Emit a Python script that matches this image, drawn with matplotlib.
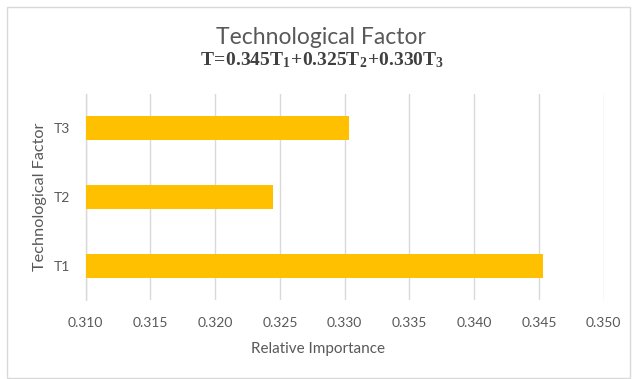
import matplotlib
matplotlib.use("Agg")
import matplotlib.pyplot as plt
from matplotlib.patches import Rectangle

factors = ["T1", "T2", "T3"]
importance = [0.3453, 0.3245, 0.3303]
x_ticks = [0.310, 0.315, 0.320, 0.325, 0.330, 0.335, 0.340, 0.345, 0.350]
title = "Technological Factor"
equation = r"$\mathbf{T\!=\!0.345T_1\!+\!0.325T_2\!+\!0.330T_3}$"
x_label = "Relative Importance"
y_label = "Technological Factor"

plt.rcParams["font.family"] = ["Lato", "DejaVu Sans"]
plt.rcParams["mathtext.fontset"] = "custom"
plt.rcParams["mathtext.bf"] = "Liberation Serif:bold"
plt.rcParams["mathtext.rm"] = "Liberation Serif:bold"

text_grey = "#595959"
grid_grey = "#d9d9d9"
bar_color = "#FFC000"

W, H = 636, 379
fig = plt.figure(figsize=(W / 100, H / 100), dpi=100)

# outer chart border
fig.patches.append(Rectangle((6.5 / W, 1 - 377.5 / H), (630 - 6.5) / W, (377.5 - 6.5) / H,
                             transform=fig.transFigure, fill=False,
                             edgecolor=grid_grey, linewidth=1.0))

left, right, top, bottom = 85.7, 603.7, 94, 300
ax = fig.add_axes([left / W, 1 - bottom / H, (right - left) / W, (bottom - top) / H])

ypos = range(len(factors))
ax.barh(ypos, importance, height=0.35, color=bar_color, zorder=3, left=0)
ax.set_xlim(x_ticks[0], x_ticks[-1])
ax.set_ylim(-0.5, len(factors) - 0.5)
ax.set_xticks(x_ticks)
ax.set_xticklabels([f"{v:.3f}" for v in x_ticks])
ax.set_yticks(list(ypos))
ax.set_yticklabels(factors)

ax.grid(axis="x", color=grid_grey, linewidth=1.0, zorder=0)
for s in ["top", "right", "bottom"]:
    ax.spines[s].set_visible(False)
ax.spines["left"].set_color(grid_grey)
ax.spines["left"].set_linewidth(1.0)
ax.tick_params(axis="both", length=0, labelsize=10, labelcolor=text_grey)
ax.tick_params(axis="x", pad=12)
ax.tick_params(axis="y", pad=11)

fig.text(0.505, 1 - 37 / H, title, ha="center", va="center", fontsize=16.5,
         color=text_grey)
fig.text(0.507, 1 - 60 / H, equation, ha="center", va="center", fontsize=14,
         color="#404040")
fig.text(0.5, 1 - 349 / H, x_label, ha="center", va="center", fontsize=11,
         color=text_grey)
fig.text(40 / W, 1 - 197 / H, y_label, ha="center", va="center", rotation=90,
         fontsize=11.7, color=text_grey)

fig.savefig("out.png", dpi=100)
